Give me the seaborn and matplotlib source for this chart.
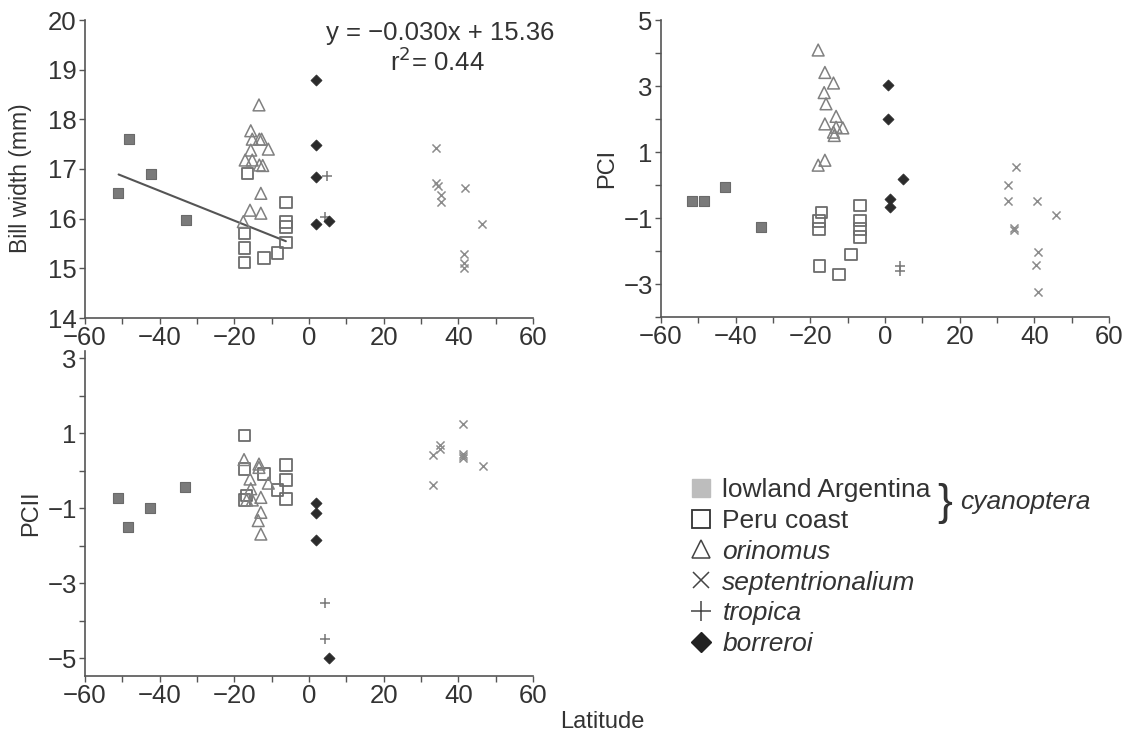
import numpy as np
import pandas as pd
import matplotlib
matplotlib.use("Agg")
import matplotlib.pyplot as plt
from matplotlib.lines import Line2D
import seaborn as sns

# ---------------- data ----------------
# Panel A: bill width (mm) vs latitude
a_low_lat = [-51.2, -48.2, -42.3, -33.0]
a_low_val = [16.52, 17.60, 16.90, 15.97]
a_peru_lat = [-16.4, -6.2, -6.2, -6.2, -6.2, -17.3, -17.3, -17.3, -12.0, -8.5]
a_peru_val = [16.91, 16.32, 15.93, 15.83, 15.52, 15.70, 15.41, 15.12, 15.21, 15.31]
a_ori_lat = [-13.4, -15.6, -15.2, -13.3, -12.7, -10.9, -15.6, -17.1, -15.2, -13.3, -12.4, -12.9, -15.8, -12.9, -17.6]
a_ori_val = [18.29, 17.77, 17.60, 17.60, 17.60, 17.40, 17.38, 17.18, 17.18, 17.08, 17.07, 16.51, 16.17, 16.11, 15.94]
a_sep_lat = [34.0, 34.0, 34.6, 35.4, 35.4, 41.8, 46.4, 41.6, 41.6, 41.6]
a_sep_val = [17.42, 16.71, 16.66, 16.48, 16.34, 16.61, 15.90, 15.28, 15.10, 15.00]
a_tro_lat = [4.7, 4.3]
a_tro_val = [16.86, 16.03]
a_bor_lat = [2.0, 2.0, 2.0, 2.0, 5.4]
a_bor_val = [18.79, 17.48, 16.83, 15.90, 15.96]
reg_slope, reg_intercept = -0.030, 15.36
reg_range = [-51.0, -6.2]

# Panel B: PCI vs latitude
b_low_lat = [-51.7, -48.5, -42.9, -33.2]
b_low_val = [-0.49, -0.49, -0.07, -1.28]
b_peru_lat = [-17.0, -17.7, -17.7, -6.7, -6.7, -6.7, -6.7, -9.1, -17.6, -12.3]
b_peru_val = [-0.84, -1.09, -1.34, -0.62, -1.07, -1.34, -1.57, -2.11, -2.45, -2.72]
b_ori_lat = [-17.9, -16.1, -13.8, -16.3, -15.8, -13.1, -16.1, -13.1, -11.3, -13.8, -13.6, -16.1, -17.9]
b_ori_val = [4.09, 3.41, 3.09, 2.80, 2.46, 2.08, 1.85, 1.75, 1.73, 1.60, 1.50, 0.75, 0.60]
b_sep_lat = [35.0, 33.0, 33.0, 40.6, 45.7, 34.6, 34.6, 40.9, 40.5, 40.9]
b_sep_val = [0.54, 0.00, -0.47, -0.47, -0.91, -1.31, -1.36, -2.02, -2.43, -3.24]
b_tro_lat = [4.0, 4.0]
b_tro_val = [-2.45, -2.62]
b_bor_lat = [0.8, 0.8, 1.3, 1.3, 4.9]
b_bor_val = [3.03, 2.00, -0.42, -0.67, 0.19]

# Panel C: PCII vs latitude
c_low_lat = [-51.2, -48.5, -42.6, -33.2]
c_low_val = [-0.72, -1.49, -0.98, -0.42]
c_peru_lat = [-17.3, -17.3, -12.1, -6.2, -6.2, -8.5, -6.2, -16.7, -17.3]
c_peru_val = [0.94, 0.05, -0.08, 0.16, -0.24, -0.51, -0.75, -0.66, -0.78]
c_ori_lat = [-17.4, -13.4, -13.4, -15.8, -10.9, -15.6, -12.9, -16.7, -15.2, -12.9, -13.6, -12.9]
c_ori_val = [0.30, 0.18, 0.09, -0.22, -0.33, -0.48, -0.71, -0.78, -0.78, -1.11, -1.33, -1.69]
c_sep_lat = [33.2, 35.1, 35.1, 41.3, 41.3, 41.3, 46.6, 33.2, 41.3]
c_sep_val = [0.41, 0.70, 0.57, 1.26, 0.46, 0.33, 0.14, -0.37, 0.40]
c_tro_lat = [4.3, 4.3]
c_tro_val = [-3.52, -4.49]
c_bor_lat = [1.9, 1.9, 1.9, 5.4]
c_bor_val = [-0.85, -1.14, -1.84, -5.00]

group_names = ["lowland Argentina", "Peru coast", "orinomus", "septentrionalium", "tropica", "borreroi"]

# ---------------- style ----------------
sns.set_style("ticks")
plt.rcParams["font.family"] = ["Liberation Sans", "DejaVu Sans"]
plt.rcParams["axes.unicode_minus"] = True
TXT = "#333333"
SPINE = "#555555"

styles = {
    "lowland Argentina": dict(marker="s", s=62, facecolor="#7a7a7a", edgecolor="#6a6a6a", linewidth=0.8),
    "Peru coast": dict(marker="s", s=68, facecolor="none", edgecolor="#6c6c6c", linewidth=1.3),
    "orinomus": dict(marker="^", s=72, facecolor="none", edgecolor="#808080", linewidth=1.1),
    "septentrionalium": dict(marker="x", s=34, color="#8c8c8c", linewidth=1.1),
    "tropica": dict(marker="+", s=55, color="#777777", linewidth=1.1),
    "borreroi": dict(marker="D", s=32, facecolor="#2b2b2b", edgecolor="#2b2b2b", linewidth=0.5),
}

fig = plt.figure(figsize=(11.32, 7.39), dpi=100)
ax1 = fig.add_axes([85 / 1132, 1 - 318 / 739, 448 / 1132, 298 / 739])
ax2 = fig.add_axes([661 / 1132, 1 - 317 / 739, 448 / 1132, 297 / 739])
ax3 = fig.add_axes([85 / 1132, 1 - 676 / 739, 448 / 1132, 325 / 739])

panels = [
    (ax1, [(a_low_lat, a_low_val), (a_peru_lat, a_peru_val), (a_ori_lat, a_ori_val),
           (a_sep_lat, a_sep_val), (a_tro_lat, a_tro_val), (a_bor_lat, a_bor_val)]),
    (ax2, [(b_low_lat, b_low_val), (b_peru_lat, b_peru_val), (b_ori_lat, b_ori_val),
           (b_sep_lat, b_sep_val), (b_tro_lat, b_tro_val), (b_bor_lat, b_bor_val)]),
    (ax3, [(c_low_lat, c_low_val), (c_peru_lat, c_peru_val), (c_ori_lat, c_ori_val),
           (c_sep_lat, c_sep_val), (c_tro_lat, c_tro_val), (c_bor_lat, c_bor_val)]),
]

for ax, groups in panels:
    for name, (xs, ys) in zip(group_names, groups):
        df = pd.DataFrame({"lat": xs, "val": ys})
        sns.scatterplot(data=df, x="lat", y="val", ax=ax, legend=False, zorder=3, **styles[name])

# regression line in panel A
reg_df = pd.DataFrame({"lat": reg_range})
reg_df["val"] = reg_intercept + reg_slope * reg_df["lat"]
sns.lineplot(data=reg_df, x="lat", y="val", ax=ax1, color="#555555", linewidth=1.5, zorder=2)


def fmt(v):
    return f"\u2212{abs(int(v))}" if v < 0 else f"{int(v)}"


xt = np.arange(-60, 61, 10)
for ax in (ax1, ax2, ax3):
    ax.set_xlim(-60, 60)
    ax.set_xticks(xt)
    ax.set_xticklabels([fmt(v) if v % 20 == 0 else "" for v in xt])
    ax.set_xlabel("")
    for sp in ("top", "right"):
        ax.spines[sp].set_visible(False)
    for sp in ("left", "bottom"):
        ax.spines[sp].set_color(SPINE)
        ax.spines[sp].set_linewidth(1.2)
    ax.tick_params(direction="out", length=4, width=1, colors=SPINE, labelcolor=TXT, labelsize=18.5, pad=2)

ax1.set_ylim(14, 20)
ax1.set_yticks(np.arange(14, 21, 1))
ax1.set_yticklabels([fmt(v) for v in np.arange(14, 21, 1)])
ax1.set_ylabel("Bill width (mm)", fontsize=16.5, color=TXT)
ax1.yaxis.set_label_coords(-0.118, 0.47)

yt2 = np.arange(-4, 6, 1)
ax2.set_ylim(-4, 5)
ax2.set_yticks(yt2)
ax2.set_yticklabels([fmt(v) if v % 2 != 0 else "" for v in yt2])
ax2.set_ylabel("PCI", fontsize=17, color=TXT, labelpad=4)

yt3 = np.arange(-5, 4, 1)
ax3.set_ylim(-5.48, 3.2)
ax3.set_yticks(yt3)
ax3.set_yticklabels([fmt(v) if v % 2 != 0 else "" for v in yt3])
ax3.set_ylabel("PCII", fontsize=17, color=TXT, labelpad=4)

# equation text
fig.text(440 / 1132, 1 - 33 / 739, "y = \u22120.030x + 15.36", fontsize=18.5, color=TXT, ha="center", va="center")
fig.text(437 / 1132, 1 - 62 / 739, "r$^2$= 0.44", fontsize=18.5, color=TXT, ha="center", va="center")

fig.text(560 / 1132, 1 - 722 / 739, "Latitude", fontsize=17, color=TXT, ha="left", va="center")

# legend
handles = [
    Line2D([], [], linestyle="none", marker="s", markersize=13, markerfacecolor="#bdbdbd", markeredgecolor="#bdbdbd"),
    Line2D([], [], linestyle="none", marker="s", markersize=13, markerfacecolor="none", markeredgecolor="#333333", markeredgewidth=1.3),
    Line2D([], [], linestyle="none", marker="^", markersize=13, markerfacecolor="none", markeredgecolor="#444444", markeredgewidth=1.1),
    Line2D([], [], linestyle="none", marker="x", markersize=12, color="#444444", markeredgewidth=1.1),
    Line2D([], [], linestyle="none", marker="+", markersize=14, color="#444444", markeredgewidth=1.1),
    Line2D([], [], linestyle="none", marker="D", markersize=10, markerfacecolor="#222222", markeredgecolor="#222222"),
]
leg = fig.legend(handles, group_names, loc="upper left", bbox_to_anchor=(688 / 1132, 1 - 478 / 739),
                 frameon=False, fontsize=19, handletextpad=0.3, labelspacing=0.26, handlelength=1.0,
                 borderpad=0, borderaxespad=0)
for i, t in enumerate(leg.get_texts()):
    t.set_color(TXT)
    if i >= 2:
        t.set_style("italic")

fig.text(945 / 1132, 1 - 503 / 739, "}", fontsize=32, color=TXT, ha="center", va="center", fontweight="light")
fig.text(960 / 1132, 1 - 502 / 739, "cyanoptera", fontsize=19, color=TXT, ha="left", va="center", style="italic")

fig.savefig("out.png", dpi=100)
